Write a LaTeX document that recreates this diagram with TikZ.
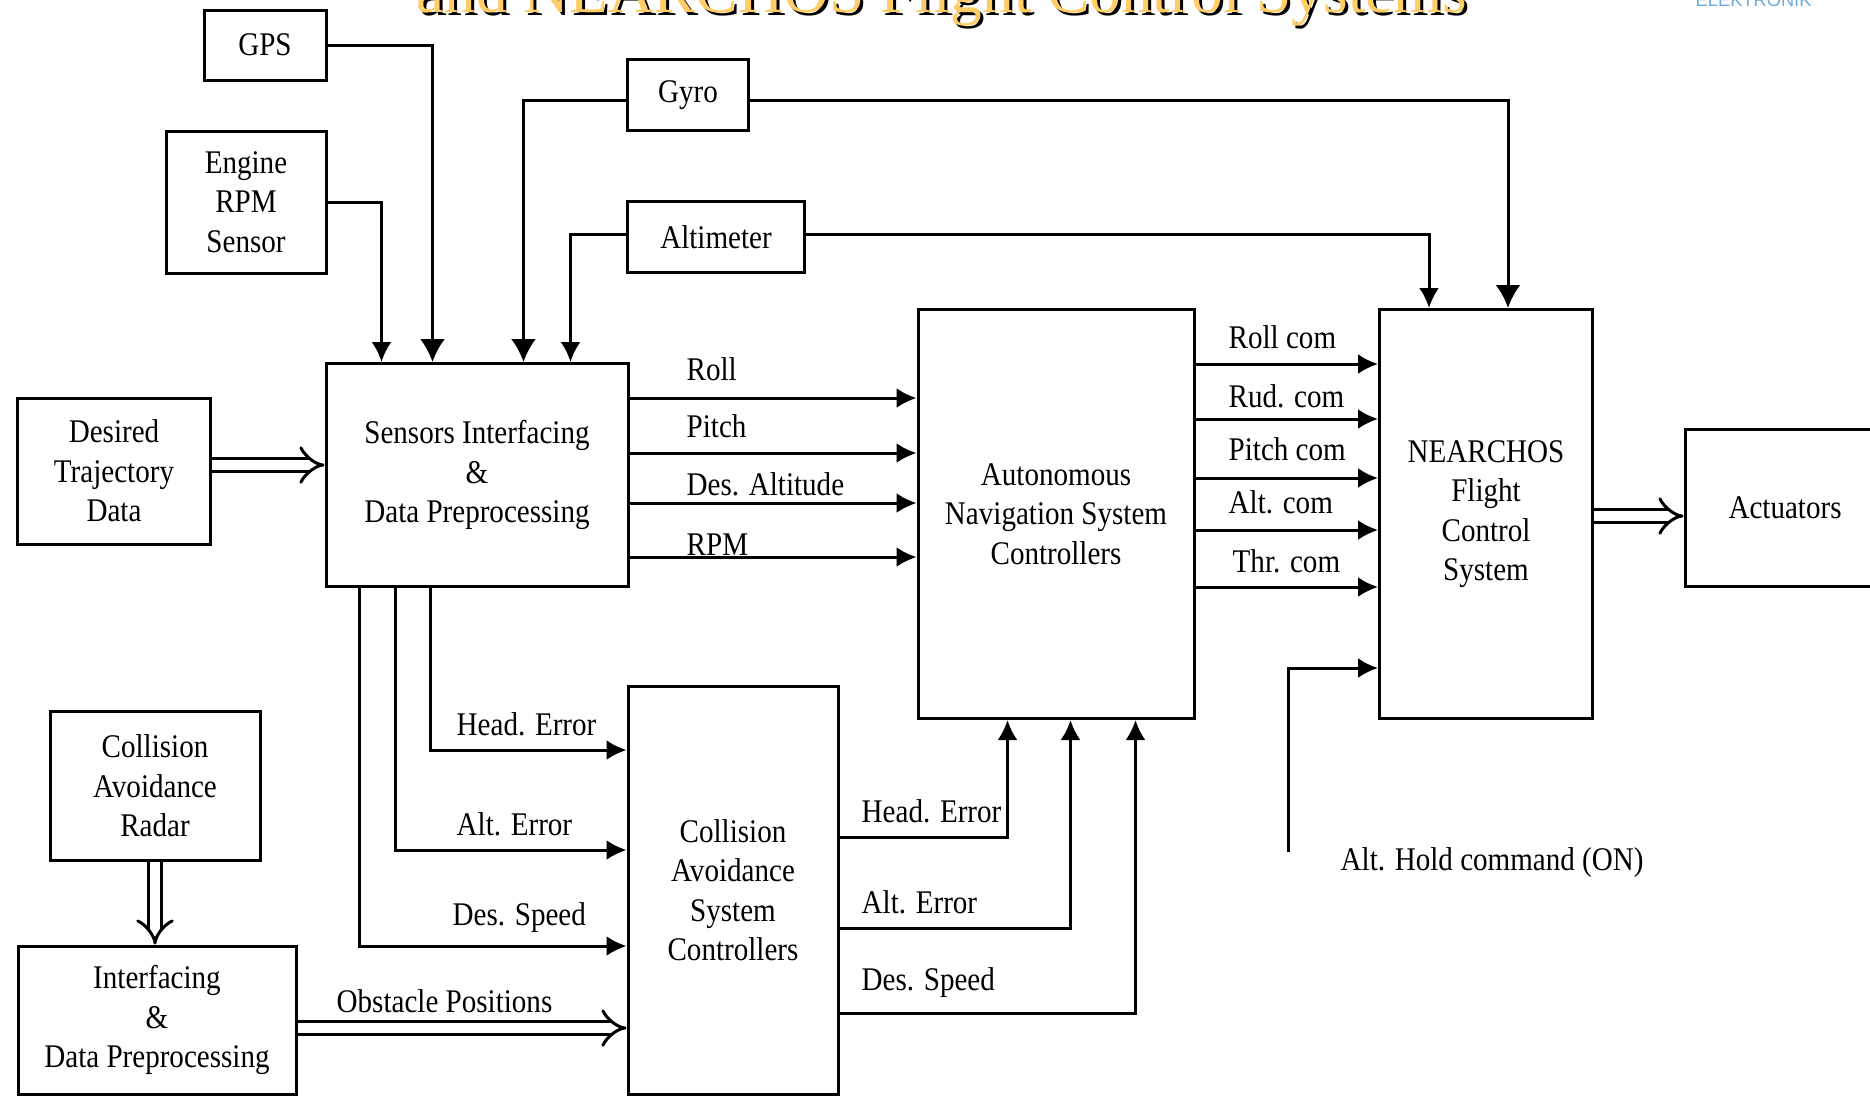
\documentclass[tikz,border=0pt]{standalone}
\usepackage{fontspec}
\setmainfont{Liberation Serif}[FakeStretch=0.88]
\newfontfamily\titlefont{Liberation Serif}
\newfontfamily\logofont{Liberation Sans}
\usetikzlibrary{arrows.meta}
\definecolor{titleorange}{RGB}{255,204,102}
\definecolor{logoblue}{RGB}{111,168,220}
\tikzstyle{block}=[draw, line width=0.3mm, inner sep=0pt, align=center, font=\fontsize{9.4}{11.2}\selectfont]
\tikzstyle{lbl}=[inner sep=0pt, font=\fontsize{9.4}{11.2}\selectfont]
\tikzstyle{sig}=[line width=0.3mm, -{Latex[length=2mm,width=2mm]}]
\tikzstyle{bigsig}=[line width=0.3mm, -{Latex[length=2.3mm,width=2.5mm]}]
\tikzstyle{wide}=[double, double distance=1mm, line width=0.3mm, -{Implies[scale=1.25]}]
\begin{document}
\begin{tikzpicture}[x=0.1mm, y=-0.1mm]
\useasboundingbox (0,0) rectangle (1870,1095);
\clip (0,0) rectangle (1870,1095);
\node[anchor=base, font=\titlefont\fontsize{18}{20}\selectfont, text=black] (ttlshadow) at (945,15){and NEARCHOS Flight Control Systems};
\node[anchor=base, font=\titlefont\fontsize{18}{20}\selectfont, text=titleorange] (ttl) at (942,12){and NEARCHOS Flight Control Systems};
\node[anchor=base west, inner sep=0pt, font=\logofont\fontsize{5.2}{6}\selectfont, text=logoblue] (logo) at (1695,6){ELEKTRONIK};
\node[block, minimum width=12.2mm, minimum height=7mm] (gps) at (265,45){GPS};
\node[block, minimum width=16mm, minimum height=14.2mm] (engine) at (246,202){Engine\\RPM\\Sensor};
\node[block, minimum width=12.1mm, minimum height=7.1mm] (gyro) at (688,95){Gyro};
\node[block, minimum width=17.7mm, minimum height=7.1mm] (alt) at (716,237){Altimeter};
\node[block, minimum width=19.3mm, minimum height=14.6mm] (traj) at (114,471){Desired\\Trajectory\\Data};
\node[block, minimum width=30.2mm, minimum height=22.3mm] (sensors) at (477,475){Sensors Interfacing\\\&\\Data Preprocessing};
\node[block, minimum width=27.6mm, minimum height=40.9mm] (ansc) at (1056,514){Autonomous\\Navigation System\\Controllers};
\node[block, minimum width=21.3mm, minimum height=40.9mm] (nearchos) at (1486,514){NEARCHOS\\Flight\\Control\\System};
\node[block, minimum width=20mm, minimum height=15.7mm] (act) at (1785,508){Actuators};
\node[block, minimum width=21mm, minimum height=14.9mm] (radar) at (155,786){Collision\\Avoidance\\Radar};
\node[block, minimum width=27.8mm, minimum height=14.8mm] (ifp) at (157,1020){Interfacing\\\&\\Data Preprocessing};
\node[block, minimum width=21mm, minimum height=40.8mm] (casc) at (733,890){Collision\\Avoidance\\System\\Controllers};
\draw[sig] (engine) -| ([xshift=5.7mm]sensors.north west);
\draw[bigsig] (gps) -| ([xshift=10.8mm]sensors.north west);
\draw[bigsig] (gyro.west |- 0,100) -| ([xshift=19.9mm]sensors.north west);
\draw[sig] (alt.west |- 0,234) -| ([xshift=24.6mm]sensors.north west);
\draw[bigsig] (gyro.east |- 0,100) -| ([xshift=13mm]nearchos.north west);
\draw[sig] (alt.east |- 0,234) -| ([xshift=5.1mm]nearchos.north west);
\draw[sig] (sensors.east |- 0,398) -- (ansc.west |- 0,398);
\draw[sig] (sensors.east |- 0,453) -- (ansc.west |- 0,453);
\draw[sig] (sensors.east |- 0,503) -- (ansc.west |- 0,503);
\draw[sig] (sensors.east |- 0,557) -- (ansc.west |- 0,557);
\draw[sig] (ansc.east |- 0,364) -- (nearchos.west |- 0,364);
\draw[sig] (ansc.east |- 0,419) -- (nearchos.west |- 0,419);
\draw[sig] (ansc.east |- 0,478) -- (nearchos.west |- 0,478);
\draw[sig] (ansc.east |- 0,530) -- (nearchos.west |- 0,530);
\draw[sig] (ansc.east |- 0,587) -- (nearchos.west |- 0,587);
\draw[sig] ([xshift=10.6mm]sensors.south west) |- (casc.west |- 0,750);
\draw[sig] ([xshift=7.1mm]sensors.south west) |- (casc.west |- 0,850);
\draw[sig] ([xshift=3.5mm]sensors.south west) |- (casc.west |- 0,946);
\draw[sig] (casc.east |- 0,837) -| ([xshift=9.1mm]ansc.south west);
\draw[sig] (casc.east |- 0,928) -| ([xshift=15.4mm]ansc.south west);
\draw[sig] (casc.east |- 0,1013) -| ([xshift=21.9mm]ansc.south west);
\coordinate (hold) at (1288,852);
\draw[sig] (hold) |- (nearchos.west |- 0,668);
\draw[wide] (traj.east |- 0,465) -- (sensors.west |- 0,465);
\draw[wide] (nearchos.east |- 0,516) -- (act.west |- 0,516);
\draw[wide] (radar.south) -- (radar.south |- ifp.north);
\draw[wide] (ifp.east |- 0,1028) -- (casc.west |- 0,1028);
\node[lbl, anchor=base west] (lroll) at (686,380){Roll};
\node[lbl, anchor=base west] (lpitch) at (686,437){Pitch};
\node[lbl, anchor=base west] (ldesalt) at (686,495){Des. Altitude};
\node[lbl, anchor=base west] (lrpm) at (686,555){RPM};
\node[lbl, anchor=base west] (lrollcom) at (1228,348){Roll com};
\node[lbl, anchor=base west] (lrudcom) at (1228,407){Rud. com};
\node[lbl, anchor=base west] (lpitchcom) at (1228,460){Pitch com};
\node[lbl, anchor=base west] (laltcom) at (1228,513){Alt. com};
\node[lbl, anchor=base west] (lthrcom) at (1232,572){Thr. com};
\node[lbl, anchor=base west] (lheadin) at (456,735){Head. Error};
\node[lbl, anchor=base west] (laltin) at (456,835){Alt. Error};
\node[lbl, anchor=base west] (lspeedin) at (452,925){Des. Speed};
\node[lbl, anchor=base west] (lobst) at (336,1012){Obstacle Positions};
\node[lbl, anchor=base west] (lheadout) at (861,822){Head. Error};
\node[lbl, anchor=base west] (laltout) at (861,913){Alt. Error};
\node[lbl, anchor=base west] (lspeedout) at (861,990){Des. Speed};
\node[lbl, anchor=base west] (lhold) at (1340,870){Alt. Hold command (ON)};
\end{tikzpicture}
\end{document}
